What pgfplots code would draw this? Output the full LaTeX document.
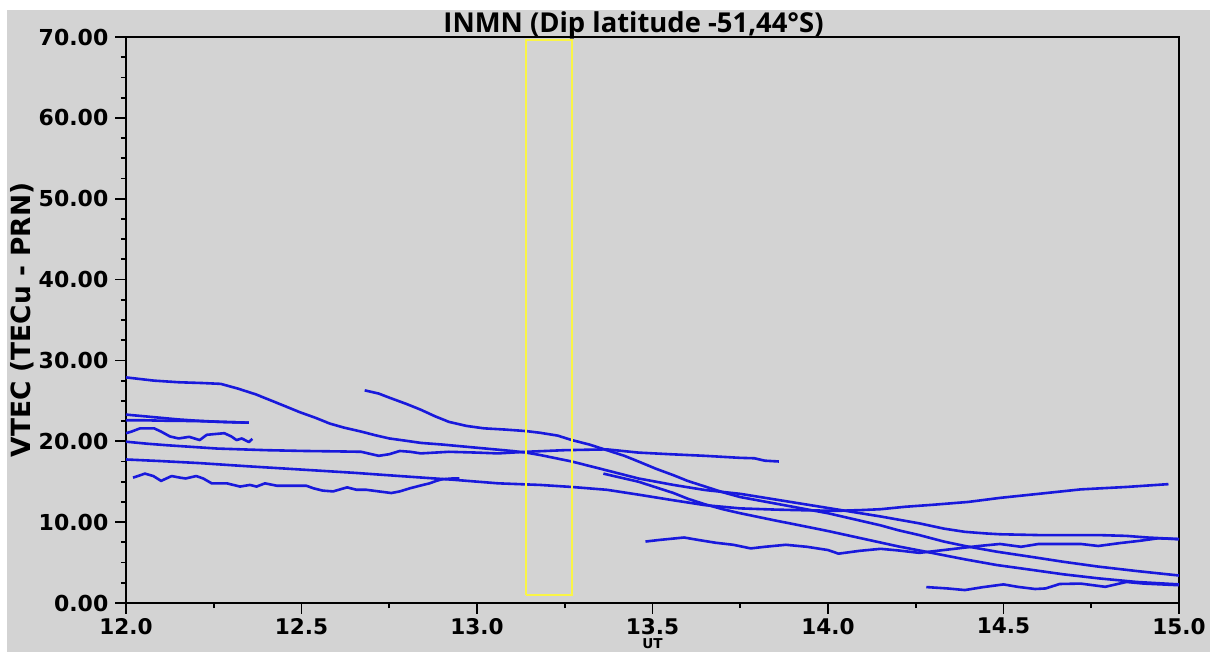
\documentclass[border=0pt]{standalone}
\usepackage{pgfplots}
\pgfplotsset{compat=1.18}
\usepackage{fontspec}
\setmainfont{DejaVu Sans}
\newfontfamily\titlefont{Open Sans}
\definecolor{bggray}{RGB}{211,211,211}
\definecolor{tecblue}{RGB}{25,25,220}
\definecolor{boxyellow}{RGB}{250,245,70}
\pgfplotsset{tec/.style={tecblue, solid, line width=1.3pt, line join=round, mark=none}}
\begin{document}
\begin{tikzpicture}
\path[use as bounding box] (-63pt,-24.5pt) rectangle (542pt,301.5pt);
\fill[bggray] (-59.5pt,-24.5pt) rectangle (542pt,296.5pt);
\begin{axis}[
  at={(0pt,0pt)}, anchor=south west,
  scale only axis, width=526.5pt, height=283pt,
  xmin=12, xmax=15, ymin=0, ymax=70,
  xtick={12,12.5,13,13.5,14,14.5,15},
  ytick={0,10,20,30,40,50,60,70},
  minor x tick num=1, minor y tick num=3,
  xtick pos=left, ytick pos=left,
  tick align=outside,
  major tick length=5.3pt, minor tick length=2.6pt,
  every tick/.style={black, line width=0.9pt},
  axis line style={black, line width=1pt},
  /pgf/number format/assume math mode=true,
  xticklabel style={font=\bfseries\fontsize{10.8}{12}\selectfont, inner sep=0.5pt, yshift=-1.5pt, /pgf/number format/.cd, fixed, fixed zerofill, precision=1},
  yticklabel style={font=\bfseries\fontsize{11}{12}\selectfont, /pgf/number format/.cd, fixed, fixed zerofill, precision=2},
  xlabel={UT},
  xlabel style={font=\bfseries\fontsize{6.8}{8}\selectfont, at={(axis description cs:0.5,0)}, anchor=base, yshift=-23pt, inner sep=0.5pt},
  ylabel={VTEC (TECu - PRN)},
  ylabel style={font=\bfseries\fontsize{13.2}{15}\selectfont, at={(axis description cs:0,0.5)}, anchor=center, yshift=52pt},
  title={INMN (Dip latitude -51,44°S)},
  title style={font=\titlefont\bfseries\fontsize{13.7}{15}\selectfont, at={(axis description cs:0.482,1)}, anchor=base, yshift=-4pt},
  clip=true,
]
% Curve A
\addplot[tec] coordinates {(12.0,27.9) (12.08,27.5) (12.15,27.3) (12.22,27.2) (12.27,27.1) (12.32,26.5) (12.37,25.8) (12.41,25.1) (12.45,24.4) (12.495,23.6) (12.54,22.9) (12.58,22.2) (12.62,21.7) (12.67,21.2) (12.71,20.75) (12.75,20.35) (12.8,20.05) (12.84,19.8) (12.9,19.6) (12.95,19.4) (13.0,19.2) (13.05,19.0) (13.1,18.8) (13.14,18.6) (13.18,18.3) (13.27,17.5) (13.37,16.4) (13.46,15.4) (13.56,14.6) (13.65,13.97) (13.75,13.5) (13.85,12.8) (13.95,12.1) (14.05,11.4) (14.15,10.7) (14.26,9.85) (14.33,9.2) (14.39,8.8) (14.45,8.6) (14.49,8.5) (14.6,8.4) (14.77,8.4) (14.85,8.3) (14.91,8.1) (15.0,7.9)};
% Curve B
\addplot[tec] coordinates {(12.68,26.3) (12.72,25.9) (12.75,25.4) (12.8,24.6) (12.84,23.9) (12.88,23.1) (12.92,22.4) (12.97,21.9) (13.02,21.6) (13.08,21.45) (13.14,21.26) (13.18,21.05) (13.23,20.7) (13.27,20.15) (13.32,19.6) (13.37,18.9) (13.42,18.2) (13.46,17.5) (13.51,16.6) (13.56,15.8) (13.6,15.1) (13.65,14.4) (13.7,13.7) (13.75,13.1) (13.8,12.7) (13.85,12.3) (13.9,11.9) (13.95,11.5) (14.0,11.1) (14.05,10.6) (14.1,10.1) (14.15,9.6) (14.2,9.0) (14.26,8.4) (14.33,7.6) (14.39,7.05) (14.48,6.35) (14.58,5.7) (14.67,5.1) (14.77,4.5) (14.88,3.95) (15.0,3.4)};
% Curve D
\addplot[tec] coordinates {(12.0,19.95) (12.06,19.7) (12.12,19.5) (12.19,19.3) (12.26,19.1) (12.33,19.0) (12.40,18.9) (12.51,18.8) (12.6,18.75) (12.67,18.7) (12.69,18.5) (12.72,18.2) (12.75,18.4) (12.78,18.8) (12.81,18.7) (12.84,18.5) (12.92,18.7) (13.0,18.6) (13.06,18.5) (13.14,18.7) (13.25,18.9) (13.37,19.0) (13.46,18.6) (13.55,18.4) (13.65,18.2) (13.75,17.95) (13.79,17.9) (13.82,17.6) (13.86,17.5)};
% Curve E
\addplot[tec] coordinates {(12.0,17.75) (12.1,17.55) (12.21,17.3) (12.35,16.9) (12.5,16.5) (12.65,16.1) (12.78,15.7) (12.93,15.25) (13.06,14.8) (13.18,14.6) (13.27,14.35) (13.37,14.0) (13.46,13.4) (13.56,12.7) (13.65,12.1) (13.75,11.7) (13.85,11.55) (13.95,11.45) (14.03,11.4) (14.1,11.5) (14.15,11.6) (14.22,11.9) (14.3,12.15) (14.4,12.5) (14.49,13.0) (14.6,13.5) (14.72,14.05) (14.85,14.35) (14.97,14.7)};
% Curve G
\addplot[tec] coordinates {(13.36,16.0) (13.41,15.5) (13.46,15.0) (13.51,14.3) (13.56,13.6) (13.6,12.9) (13.65,12.2) (13.7,11.6) (13.75,11.1) (13.8,10.65) (13.85,10.2) (13.92,9.6) (14.0,8.9) (14.1,7.95) (14.2,7.0) (14.26,6.5) (14.39,5.4) (14.48,4.7) (14.58,4.1) (14.67,3.55) (14.77,3.05) (14.88,2.6) (15.0,2.3)};
% Short S1, S2
\addplot[tec] coordinates {(12.0,23.3) (12.05,23.1) (12.1,22.9) (12.15,22.7) (12.2,22.55) (12.27,22.4) (12.35,22.3)};
\addplot[tec] coordinates {(12.0,22.6) (12.05,22.6) (12.1,22.55) (12.2,22.5) (12.27,22.4) (12.35,22.3)};
% Wiggly S3
\addplot[tec] coordinates {(12.0,21.0) (12.016,21.2) (12.04,21.6) (12.08,21.6) (12.1,21.2) (12.125,20.6) (12.15,20.35) (12.18,20.55) (12.21,20.15) (12.23,20.8) (12.28,21.0) (12.30,20.6) (12.315,20.15) (12.33,20.35) (12.35,19.9) (12.36,20.3)};
% Wiggly S4
\addplot[tec] coordinates {(12.02,15.5) (12.054,16.0) (12.078,15.7) (12.10,15.1) (12.13,15.7) (12.154,15.5) (12.17,15.4) (12.20,15.7) (12.22,15.4) (12.244,14.8) (12.287,14.8) (12.325,14.4) (12.353,14.6) (12.372,14.4) (12.396,14.8) (12.43,14.5) (12.476,14.5) (12.514,14.5) (12.533,14.2) (12.56,13.9) (12.59,13.8) (12.63,14.3) (12.657,14.0) (12.685,14.0) (12.72,13.8) (12.756,13.6) (12.78,13.8) (12.81,14.2) (12.837,14.5) (12.865,14.8) (12.884,15.1) (12.90,15.3) (12.93,15.4) (12.95,15.4)};
% Wiggly H
\addplot[tec] coordinates {(13.48,7.6) (13.52,7.8) (13.59,8.1) (13.63,7.8) (13.68,7.45) (13.73,7.2) (13.78,6.75) (13.82,6.95) (13.88,7.2) (13.94,6.95) (14.0,6.55) (14.03,6.1) (14.09,6.45) (14.15,6.7) (14.2,6.5) (14.26,6.2) (14.32,6.5) (14.37,6.75) (14.43,7.05) (14.49,7.3) (14.55,6.95) (14.6,7.3) (14.72,7.3) (14.77,7.05) (14.83,7.4) (14.89,7.7) (14.94,8.0) (15.0,7.9)};
% Low wiggly L
\addplot[tec] coordinates {(14.28,1.97) (14.34,1.8) (14.39,1.6) (14.44,1.95) (14.5,2.3) (14.54,2.0) (14.59,1.73) (14.62,1.8) (14.66,2.35) (14.72,2.4) (14.79,2.0) (14.85,2.6) (14.9,2.4) (15.0,2.2)};
% Yellow box
\addplot[boxyellow, line width=1pt, line join=miter, mark=none] coordinates {(13.14,1) (13.27,1) (13.27,69.6) (13.14,69.6) (13.14,1)};
\end{axis}
\end{tikzpicture}
\end{document}
